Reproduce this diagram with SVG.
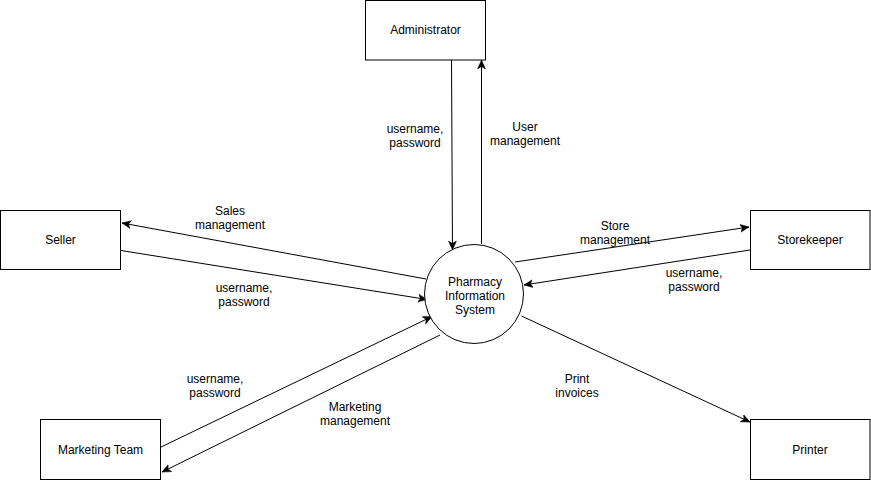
<svg xmlns="http://www.w3.org/2000/svg" width="871" height="481" viewBox="0 0 871 481">
<defs>
<style>
.box{fill:#fff;stroke:#000;stroke-width:1}
.t{font-family:"Liberation Sans",Arial,sans-serif;font-size:12px;fill:#000;text-anchor:middle}
.c line{stroke:#000;stroke-width:1;fill:none;marker-end:url(#arr)}
</style>
<marker id="arr" markerUnits="userSpaceOnUse" markerWidth="10" markerHeight="9" refX="9" refY="4.5" orient="auto" viewBox="0 0 10 9">
<path d="M0,0.5 L9,4.5 L0,8.5 L2.5,4.5 z" fill="#000" stroke="#000" stroke-width="0.5"/>
</marker>
</defs>
<rect width="871" height="481" fill="#fff"/>
<g class="c" id="connectors">
<line x1="451.5" y1="60" x2="452.5" y2="250"/>
<line x1="481.5" y1="244" x2="481.5" y2="60"/>
<line x1="426" y1="279" x2="122" y2="223"/>
<line x1="121" y1="250.5" x2="427" y2="299.5"/>
<line x1="515" y1="262" x2="749" y2="227"/>
<line x1="750" y1="250" x2="524" y2="285"/>
<line x1="160" y1="447.5" x2="432" y2="316.5"/>
<line x1="440" y1="335" x2="162" y2="472"/>
<line x1="521.5" y1="316" x2="750" y2="422"/>
</g>
<g id="labels">
<text class="t" x="415" y="133">username,</text>
<text class="t" x="415" y="147">password</text>
<text class="t" x="525" y="131">User</text>
<text class="t" x="525" y="145">management</text>
<text class="t" x="230" y="215">Sales</text>
<text class="t" x="230" y="229">management</text>
<text class="t" x="244" y="292">username,</text>
<text class="t" x="244" y="306">password</text>
<text class="t" x="615" y="230">Store</text>
<text class="t" x="615" y="244">management</text>
<text class="t" x="694" y="277">username,</text>
<text class="t" x="694" y="291">password</text>
<text class="t" x="215" y="383">username,</text>
<text class="t" x="215" y="397">password</text>
<text class="t" x="355" y="411">Marketing</text>
<text class="t" x="355" y="425">management</text>
<text class="t" x="577" y="383">Print</text>
<text class="t" x="577" y="397">invoices</text>
</g>
<g id="administrator">
<rect class="box" x="365.5" y="0.5" width="120" height="59.5"/>
<text class="t" x="425.5" y="34">Administrator</text>
</g>
<g id="seller">
<rect class="box" x="0.5" y="210.5" width="120" height="59"/>
<text class="t" x="60.5" y="244">Seller</text>
</g>
<g id="storekeeper">
<rect class="box" x="750.5" y="210.5" width="119.5" height="59"/>
<text class="t" x="810" y="244">Storekeeper</text>
</g>
<g id="marketing-team">
<rect class="box" x="40.5" y="419.5" width="120" height="60"/>
<text class="t" x="100.5" y="453.5">Marketing Team</text>
</g>
<g id="printer">
<rect class="box" x="750.5" y="419.5" width="119.5" height="60"/>
<text class="t" x="810" y="453.5">Printer</text>
</g>
<g id="pharmacy-information-system">
<circle class="box" cx="474" cy="294" r="49.5"/>
<text class="t" x="475" y="285.5">Pharmacy</text>
<text class="t" x="475" y="299.5">Information</text>
<text class="t" x="475" y="313.5">System</text>
</g>
</svg>
